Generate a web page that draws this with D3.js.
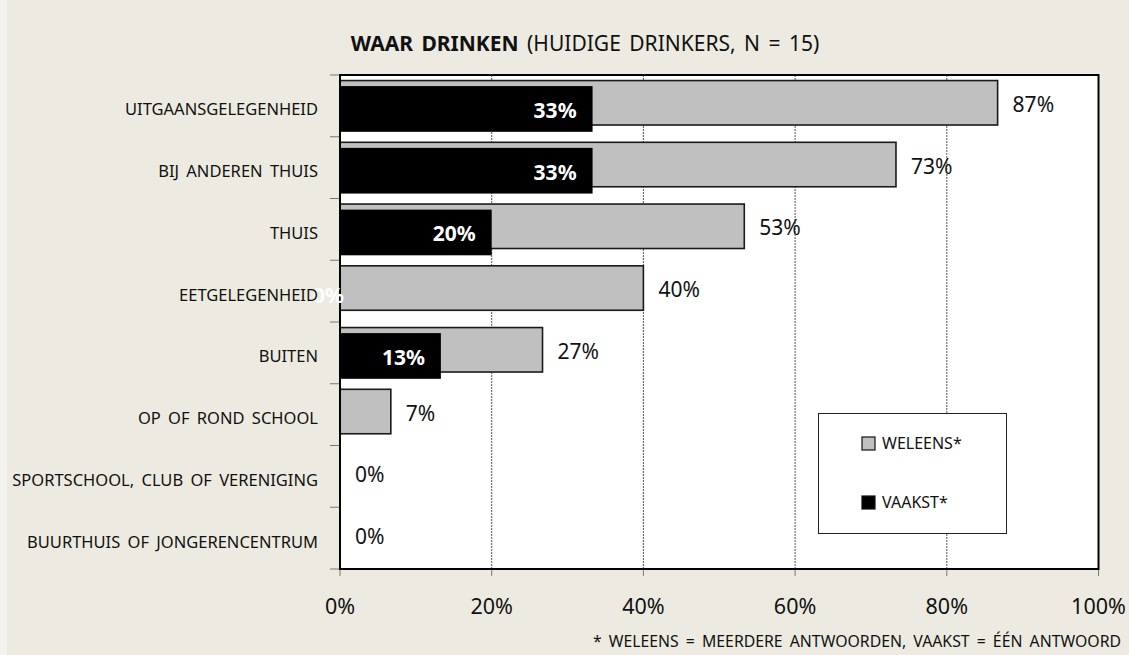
<!DOCTYPE html>
<html><head><meta charset="utf-8">
<script src="https://cdn.jsdelivr.net/npm/d3@7"></script>
<style>
html,body{margin:0;padding:0;background:#F4F3EE;}
svg{display:block;font-family:"Noto Sans","Open Sans",sans-serif;}
</style></head>
<body>
<svg id="c" width="1129" height="655"></svg>
<script>
const categories = ["UITGAANSGELEGENHEID","BIJ ANDEREN THUIS","THUIS","EETGELEGENHEID","BUITEN","OP OF ROND SCHOOL","SPORTSCHOOL, CLUB OF VERENIGING","BUURTHUIS OF JONGERENCENTRUM"];
const weleens = [86.7, 73.3, 53.3, 40, 26.7, 6.7, 0, 0];
const vaakst  = [33.3, 33.3, 20, 0, 13.3, null, null, null];
const xTicks = [0, 20, 40, 60, 80, 100];
const seriesNames = ["WELEENS*", "VAAKST*"];
const titleBold = "WAAR DRINKEN";
const titleRest = " (HUIDIGE DRINKERS, N = 15)";
const footnote = "* WELEENS = MEERDERE ANTWOORDEN, VAAKST = ÉÉN ANTWOORD";

const svg = d3.select("#c");
const L = 340, R = 1098.5, T = 75, B = 569;

svg.append("rect").attr("x",7).attr("y",0).attr("width",1122).attr("height",655).attr("fill","#EDEBE1");

const x = d3.scaleLinear().domain([0,100]).range([L,R]);
const y = d3.scaleBand().domain(categories).range([T,B]).padding(0);
const bw = y.bandwidth();

// plot area
svg.append("rect").attr("x",L).attr("y",T).attr("width",R-L).attr("height",B-T).attr("fill","#fff");

// gridlines
svg.append("g").selectAll("line").data(xTicks.filter(d=>d>0&&d<100)).join("line")
  .attr("x1",d=>x(d)).attr("x2",d=>x(d)).attr("y1",T).attr("y2",B)
  .attr("stroke","#555").attr("stroke-width",1).attr("stroke-dasharray","2,1");

// x tick marks below axis
svg.append("g").selectAll("line").data(xTicks).join("line")
  .attr("x1",d=>x(d)).attr("x2",d=>x(d)).attr("y1",B).attr("y2",B+7)
  .attr("stroke","#777").attr("stroke-width",1);

// y tick marks at band boundaries
const yb = categories.map(c=>y(c)).concat([B]);
svg.append("g").selectAll("line").data(yb).join("line")
  .attr("x1",L-10).attr("x2",L).attr("y1",d=>d).attr("y2",d=>d)
  .attr("stroke","#777").attr("stroke-width",1);

// grey bars
svg.append("g").selectAll("rect").data(categories).join("rect")
  .attr("x",x(0)).attr("y",c=>y(c)+bw*0.09)
  .attr("width",(c,i)=>x(weleens[i])-x(0)).attr("height",bw*0.72)
  .attr("fill",(c,i)=>weleens[i]>0?"#C0C0C0":"none")
  .attr("stroke",(c,i)=>weleens[i]>0?"#1a1a1a":"none").attr("stroke-width",1.6);

// black bars
svg.append("g").selectAll("rect").data(categories.filter((c,i)=>vaakst[i]!=null && vaakst[i]>0)).join("rect")
  .attr("x",x(0)).attr("y",c=>y(c)+bw*0.18)
  .attr("width",c=>x(vaakst[categories.indexOf(c)])-x(0)).attr("height",bw*0.74)
  .attr("fill","#000");

// frame
svg.append("rect").attr("x",L).attr("y",T).attr("width",R-L).attr("height",B-T)
  .attr("fill","none").attr("stroke","#000").attr("stroke-width",2);

// grey labels
svg.append("g").selectAll("text").data(categories).join("text")
  .attr("x",(c,i)=>x(weleens[i])+15).attr("y",c=>y(c)+bw*0.09+bw*0.36+1)
  .attr("dominant-baseline","central").attr("font-size",21).attr("fill","#111")
  .text((c,i)=>Math.round(weleens[i])+"%");

// black labels
svg.append("g").selectAll("text").data(categories.filter((c,i)=>vaakst[i]!=null)).join("text")
  .attr("x",c=>{const v=vaakst[categories.indexOf(c)]; return v>0? x(v)-16 : x(v)+4;})
  .attr("y",c=>y(c)+bw*0.18+bw*0.37+1)
  .attr("text-anchor","end").attr("dominant-baseline","central")
  .attr("font-size",21).attr("font-weight","bold").attr("fill","#fff")
  .text(c=>Math.round(vaakst[categories.indexOf(c)])+"%");

// category labels
svg.append("g").selectAll("text").data(categories).join("text")
  .attr("x",318).attr("y",c=>y(c)+bw/2+3)
  .attr("text-anchor","end").attr("dominant-baseline","central")
  .attr("font-size",16.5).attr("word-spacing",3).attr("fill","#111")
  .text(c=>c);

// x tick labels
svg.append("g").selectAll("text").data(xTicks).join("text")
  .attr("x",d=>x(d)).attr("y",605).attr("text-anchor","middle").attr("dominant-baseline","central")
  .attr("font-size",21.5).attr("fill","#111").text(d=>d+"%");

// title
const t = svg.append("text").attr("x",585).attr("y",43).attr("text-anchor","middle")
  .attr("dominant-baseline","central").attr("font-size",21).attr("word-spacing",3).attr("fill","#111");
t.append("tspan").attr("font-weight","bold").text(titleBold);
t.append("tspan").text(titleRest);

// footnote
svg.append("text").attr("x",1121).attr("y",641).attr("text-anchor","end").attr("dominant-baseline","central")
  .attr("font-size",15.8).attr("word-spacing",3).attr("fill","#111").text(footnote);

// legend
const lg = svg.append("g");
lg.append("rect").attr("x",818.5).attr("y",413.5).attr("width",188).attr("height",120)
  .attr("fill","#fff").attr("stroke","#222").attr("stroke-width",1);
const lgItems = [{name:seriesNames[0], fill:"#C0C0C0", yy:437},{name:seriesNames[1], fill:"#000", yy:496}];
lg.selectAll("rect.k").data(lgItems).join("rect").attr("class","k")
  .attr("x",862).attr("y",d=>d.yy).attr("width",13).attr("height",13)
  .attr("fill",d=>d.fill).attr("stroke","#111").attr("stroke-width",1.2);
lg.selectAll("text").data(lgItems).join("text")
  .attr("x",882).attr("y",d=>d.yy+12).attr("font-size",16).attr("fill","#111").text(d=>d.name);
</script>
</body></html>
